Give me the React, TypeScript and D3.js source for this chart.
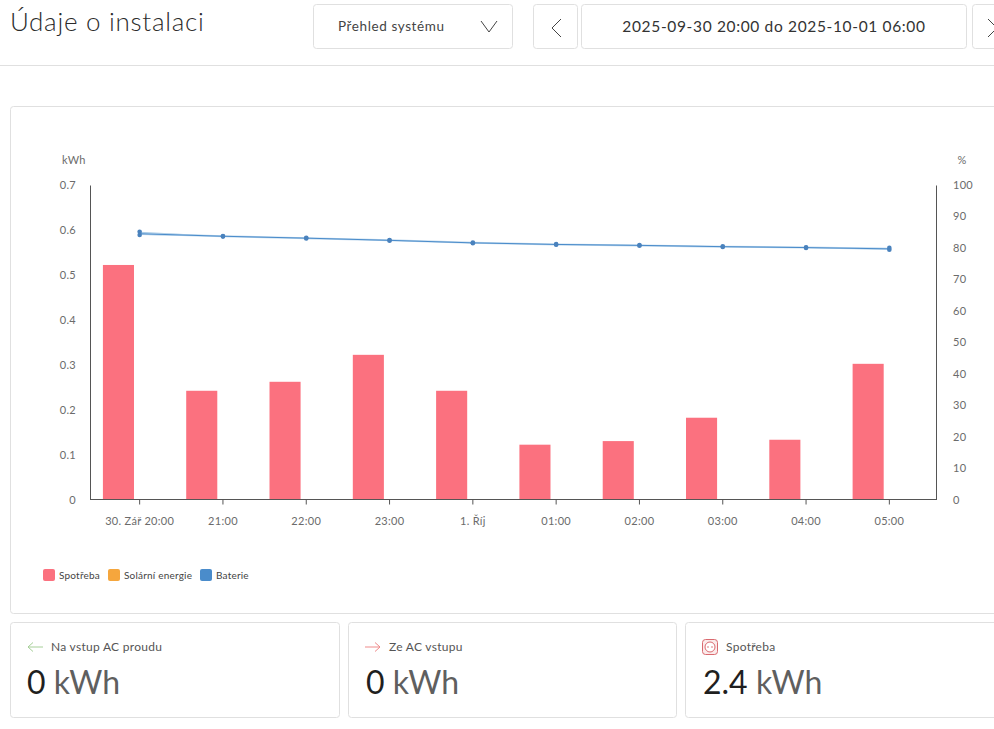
import { useEffect, useRef } from 'react';
import * as d3 from 'd3';

const hours = ['30. Zář 20:00', '21:00', '22:00', '23:00', '1. Říj', '01:00', '02:00', '03:00', '04:00', '05:00'];
const consumption = [0.522, 0.242, 0.262, 0.322, 0.242, 0.122, 0.13, 0.182, 0.133, 0.302];
const solar = [0, 0, 0, 0, 0, 0, 0, 0, 0, 0];
const battery = [84.5, 83.7, 83.1, 82.4, 81.6, 81.1, 80.8, 80.4, 80.1, 79.7];
const batteryMin = [84.1, 83.6, 83.0, 82.3, 81.5, 81.0, 80.7, 80.3, 80.0, 79.4];
const batteryMax = [85.1, 83.8, 83.2, 82.5, 81.7, 81.2, 80.9, 80.5, 80.2, 80.0];
const kwhTicks = [0, 0.1, 0.2, 0.3, 0.4, 0.5, 0.6, 0.7];
const percentTicks = [0, 10, 20, 30, 40, 50, 60, 70, 80, 90, 100];
const barSeries = ['Spotřeba', 'Solární energie'];
const legendNames = ['Spotřeba', 'Solární energie', 'Baterie'];
const legendColors = ['#fb717f', '#f5a63d', '#4a8ccb'];
const legendX = [43, 108, 200];

const FONT = 'Lato, "Noto Sans", sans-serif';
const BORDER = '#e0e0e0';

export default function App() {
  const svgRef = useRef<SVGSVGElement>(null);

  useEffect(() => {
    if (!svgRef.current) return;
    const svg = d3.select(svgRef.current);
    svg.selectAll('*').remove();

    const left = 90, right = 936, top = 185, bottom = 499.5;

    const x = d3.scaleBand<string>().domain(hours).range([98, 931]);
    const slot = d3.scaleBand<string>()
      .domain(barSeries)
      .range([-42, 42])
      .paddingInner(0.26)
      .paddingOuter(0.13);
    const yKwh = d3.scaleLinear().domain([0, 0.7]).range([bottom, top]);
    const yPct = d3.scaleLinear().domain([0, 100]).range([bottom, top]);
    const center = (h: string) => (x(h) as number) + x.bandwidth() / 2;

    const card = (cx: number, cy: number, w: number, h: number) =>
      svg.append('rect')
        .attr('x', cx + 0.5).attr('y', cy + 0.5)
        .attr('width', w).attr('height', h)
        .attr('rx', 3)
        .attr('fill', '#fff')
        .attr('stroke', BORDER);

    const label = (tx: number, ty: number, s: string, size: number, fill: string, anchor = 'start') =>
      svg.append('text')
        .attr('x', tx).attr('y', ty)
        .attr('font-family', FONT)
        .attr('font-size', size)
        .attr('fill', fill)
        .attr('text-anchor', anchor)
        .text(s);

    // header
    label(10, 31, 'Údaje o instalaci', 26, '#2b2b2b').attr('font-weight', 300).attr('letter-spacing', 0.72);
    card(313, 4, 199, 44);
    label(338, 31, 'Přehled systému', 13.5, '#444').attr('letter-spacing', 0.6);
    svg.append('path').attr('d', 'M481 21l8 11l8-11').attr('fill', 'none').attr('stroke', '#444');
    card(533, 4, 44, 44);
    svg.append('path').attr('d', 'M561 19l-9 9l9 9').attr('fill', 'none').attr('stroke', '#444');
    card(581, 4, 385, 44);
    label(774, 32, '2025-09-30 20:00 do 2025-10-01 06:00', 15.5, '#333', 'middle').attr('letter-spacing', 0.65);
    card(972, 4, 44, 44);
    svg.append('path').attr('d', 'M988 19l9 9l-9 9').attr('fill', 'none').attr('stroke', '#444');
    svg.append('line')
      .attr('x1', 0).attr('x2', 994).attr('y1', 65.5).attr('y2', 65.5)
      .attr('stroke', BORDER);

    // chart panel
    card(10, 106, 1000, 507);

    const bars = svg.append('g').attr('transform', 'translate(-0.2,0)');
    barSeries.forEach((name, s) => {
      const values = s === 0 ? consumption : solar;
      bars.selectAll(`.bar${s}`)
        .data(values)
        .enter().append('rect')
        .attr('class', `bar${s}`)
        .attr('x', (d, i) => center(hours[i]) + (slot(name) as number))
        .attr('y', d => yKwh(d))
        .attr('width', slot.bandwidth())
        .attr('height', d => bottom - yKwh(d))
        .attr('fill', legendColors[s]);
    });

    const styleAxis = (g: d3.Selection<SVGGElement, unknown, null, undefined>) => {
      g.selectAll('text')
        .attr('font-family', FONT)
        .attr('font-size', 11)
        .attr('letter-spacing', 0.3)
        .attr('fill', '#6b6b6b');
      g.selectAll('path, line').attr('stroke', '#555');
    };

    svg.append('g')
      .attr('transform', `translate(${left},0)`)
      .call(d3.axisLeft(yKwh).tickValues(kwhTicks).tickSize(0).tickPadding(14).tickFormat(d => String(d)))
      .call(styleAxis);

    svg.append('g')
      .attr('transform', `translate(${right},0)`)
      .call(d3.axisRight(yPct).tickValues(percentTicks).tickSize(0).tickPadding(17).tickFormat(d => String(d)))
      .call(styleAxis);

    const xAxis = svg.append('g')
      .attr('transform', `translate(0,${bottom})`)
      .call(d3.axisBottom(x).tickSize(5).tickPadding(13).tickSizeOuter(0))
      .call(styleAxis);
    xAxis.select('.domain').attr('d', `M${left},0H${right}`);

    label(62, 164, 'kWh', 11, '#6b6b6b').attr('letter-spacing', 0.3);
    label(962, 164, '%', 11, '#6b6b6b', 'middle');

    // battery line, with the min and max of each hour around it
    const band = d3.area<number>()
      .x((d, i) => center(hours[i]))
      .y0((d, i) => yPct(batteryMin[i]))
      .y1((d, i) => yPct(batteryMax[i]));
    const line = d3.line<number>()
      .x((d, i) => center(hours[i]))
      .y(d => yPct(d));
    svg.append('path')
      .datum(battery)
      .attr('fill', '#a9cbe6')
      .attr('d', band);
    svg.append('path')
      .datum(battery)
      .attr('fill', 'none')
      .attr('stroke', '#bcd6ec')
      .attr('stroke-width', 2)
      .attr('d', line);
    svg.append('path')
      .datum(battery)
      .attr('fill', 'none')
      .attr('stroke', '#4a8ccb')
      .attr('stroke-width', 1)
      .attr('d', line);
    [batteryMin, batteryMax].forEach((values, s) => {
      svg.selectAll(`.dot${s}`)
        .data(values)
        .enter().append('circle')
        .attr('class', `dot${s}`)
        .attr('cx', (d, i) => center(hours[i]))
        .attr('cy', d => yPct(d))
        .attr('r', 2.3)
        .attr('fill', '#4a82bd');
    });

    // legend
    legendNames.forEach((name, i) => {
      svg.append('rect')
        .attr('x', legendX[i]).attr('y', 569)
        .attr('width', 12).attr('height', 12)
        .attr('rx', 2)
        .attr('fill', legendColors[i]);
      label(legendX[i] + 16, 578.5, name, 10, '#444').attr('letter-spacing', 0.2);
    });

    // bottom cards
    card(10, 622, 329, 95);
    svg.append('path').attr('d', 'M43 647H28m5-4.5l-5 4.5l5 4.5').attr('fill', 'none').attr('stroke', '#a6cf98');
    label(51, 651, 'Na vstup AC proudu', 12, '#555').attr('letter-spacing', 0.28);
    card(348, 622, 328, 95);
    svg.append('path').attr('d', 'M365 647H380m-5-4.5l5 4.5l-5 4.5').attr('fill', 'none').attr('stroke', '#ef8b8b');
    label(389, 651, 'Ze AC vstupu', 12, '#555').attr('letter-spacing', 0.28);
    card(685, 622, 330, 95);
    svg.append('rect').attr('x', 702.5).attr('y', 639.5).attr('width', 15).attr('height', 15).attr('rx', 3)
      .attr('fill', '#fbeaea').attr('stroke', '#d9696f');
    svg.append('circle').attr('cx', 710).attr('cy', 647).attr('r', 5).attr('fill', '#fff').attr('stroke', '#d9696f');
    svg.append('circle').attr('cx', 708).attr('cy', 647).attr('r', 0.8).attr('fill', '#d9696f');
    svg.append('circle').attr('cx', 712).attr('cy', 647).attr('r', 0.8).attr('fill', '#d9696f');
    label(726, 651, 'Spotřeba', 12, '#555').attr('letter-spacing', 0.28);

    const stat = (tx: number, num: string) => {
      const t = label(tx, 694, num, 32, '#1f1f1f');
      t.append('tspan').attr('fill', '#5f5f5f').text(' kWh');
    };
    stat(27, '0');
    stat(366, '0');
    stat(703, '2.4');
  }, []);

  return (
    <svg
      ref={svgRef}
      width={994}
      height={729}
      style={{ position: 'absolute', left: 0, top: 0, display: 'block', background: '#fff' }}
    />
  );
}
